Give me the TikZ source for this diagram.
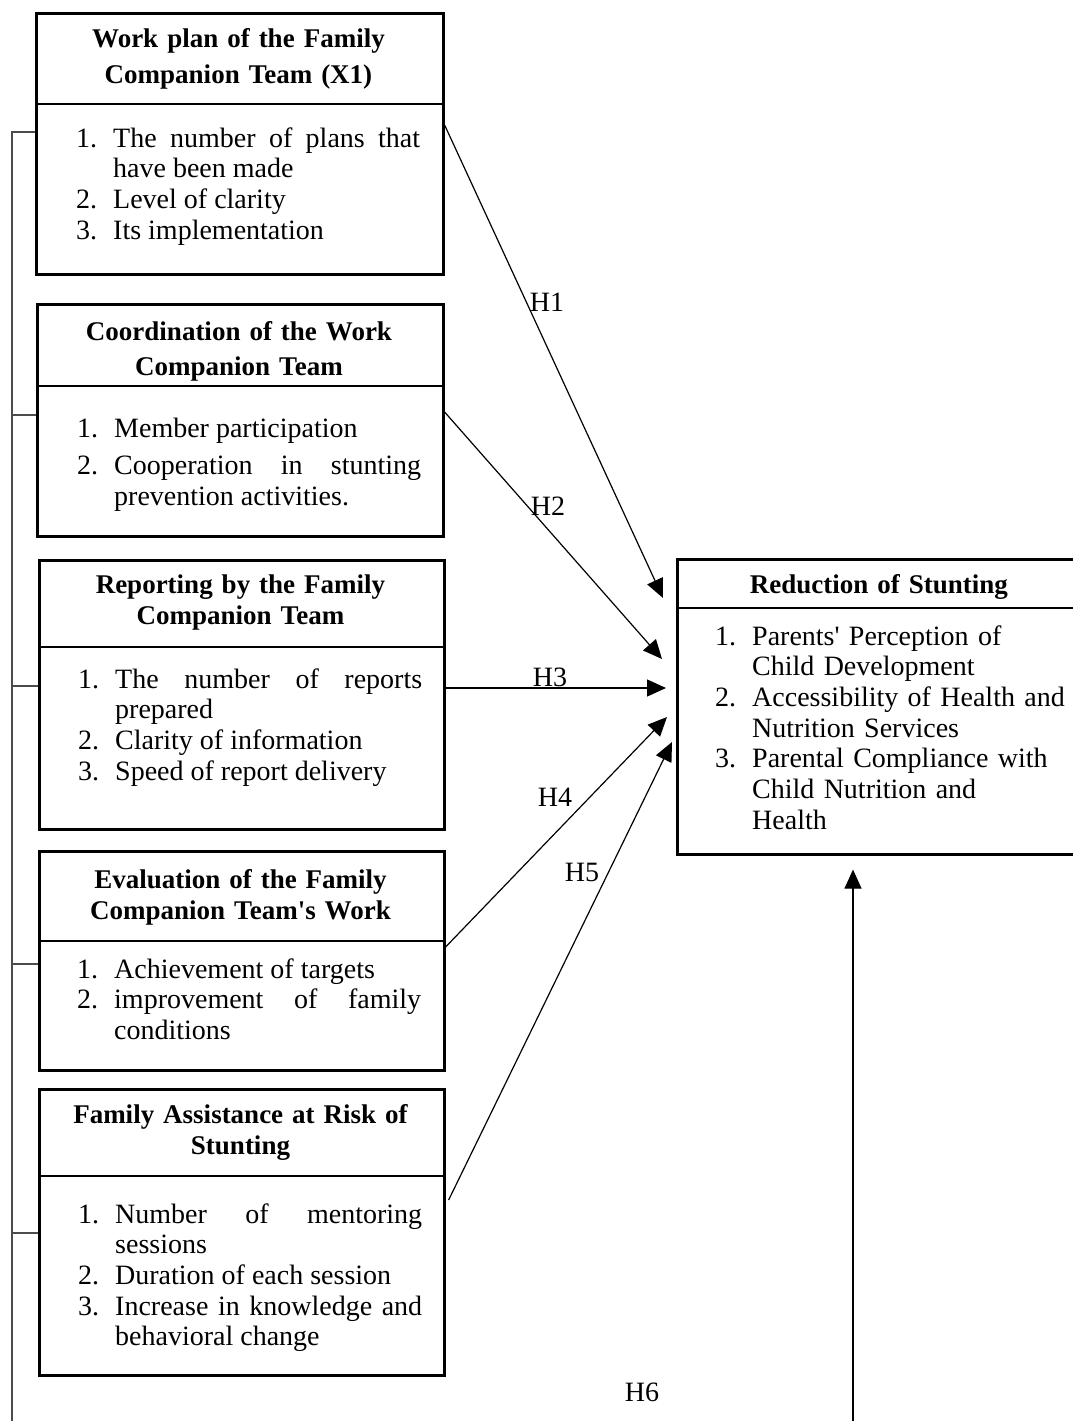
\documentclass[tikz,border=0pt]{standalone}
\usepackage{fontspec}
\setmainfont{Liberation Serif}
\usepackage{tikz}
\usetikzlibrary{arrows.meta}
\newcommand{\itm}[2]{\hangindent=37pt\hangafter=1\makebox[37pt][l]{#1}#2\par}

\begin{document}
\begin{tikzpicture}[
x=1pt, y=-1pt,
varbox/.style={draw, line width=2.6pt, anchor=north west, inner sep=0pt},
ttl/.style={anchor=base, align=center, text width=390pt, inner sep=0pt, font=\fontsize{27}{31.5}\selectfont\bfseries},
lst/.style={anchor=base west, align=justify, text width=344pt, inner sep=0pt, font=\fontsize{28}{30.7}\selectfont},
divider/.style={line width=1.2pt},
link/.style={line width=1.4pt, black!70},
arrow/.style={-{Triangle[length=19pt,width=17pt]}, line width=1.2pt},
hlbl/.style={inner sep=0pt, font=\fontsize{28}{30}\selectfont}
]
\useasboundingbox (0,0) rectangle (1072,1421);

\node[varbox, minimum width=407, minimum height=261] (b1) at (35,12) {};
\node[varbox, minimum width=406, minimum height=232] (b2) at (36,303) {};
\node[varbox, minimum width=405, minimum height=269] (b3) at (38,559) {};
\node[varbox, minimum width=405, minimum height=219] (b4) at (38,850) {};
\node[varbox, minimum width=405, minimum height=286] (b5) at (38,1088) {};
\node[varbox, minimum width=406, minimum height=295] (r) at (676,558) {};

\draw[divider] (b1.west |- 0,104) -- (b1.east |- 0,104);
\draw[divider] (b2.west |- 0,386) -- (b2.east |- 0,386);
\draw[divider] (b3.west |- 0,647) -- (b3.east |- 0,647);
\draw[divider] (b4.west |- 0,941) -- (b4.east |- 0,941);
\draw[divider] (b5.west |- 0,1176) -- (b5.east |- 0,1176);
\draw[divider] (r.west |- 0,608) -- (r.east |- 0,608);

\node[ttl, font=\fontsize{27}{35.5}\selectfont\bfseries] (t1) at (238.5,48) {Work plan of the Family\\Companion Team (X1)};
\node[ttl, font=\fontsize{27}{35}\selectfont\bfseries] (t2) at (239,340) {Coordination of the Work\\Companion Team};
\node[ttl] (t3) at (240.5,593) {Reporting by the Family\\Companion Team};
\node[ttl] (t4) at (240.5,888) {Evaluation of the Family\\Companion Team\textquotesingle s Work};
\node[ttl] (t5) at (240.5,1123) {Family Assistance at Risk of\\Stunting};
\node[ttl] (rt) at (879,593) {Reduction of Stunting};

\node[lst] (l1) at (76,147) {\itm{1.}{The number of plans that\linebreak have been made}\itm{2.}{Level of clarity}\itm{3.}{Its implementation}};
\node[lst] (l2) at (77,437) {\itm{1.}{Member participation}\vspace{7pt}\itm{2.}{Cooperation in stunting\linebreak prevention activities.}};
\node[lst] (l3) at (78,688) {\itm{1.}{The number of reports\linebreak prepared}\itm{2.}{Clarity of information}\itm{3.}{Speed of report delivery}};
\node[lst] (l4) at (77,978) {\itm{1.}{Achievement of targets}\itm{2.}{improvement of family\linebreak conditions}};
\node[lst] (l5) at (78,1223) {\itm{1.}{Number of mentoring\linebreak sessions}\itm{2.}{Duration of each session}\itm{3.}{Increase in knowledge and\linebreak behavioral change}};
\node[lst, align=left, text width=350pt] (rl) at (715,645) {\itm{1.}{Parents\textquotesingle\ Perception of\newline Child Development}\itm{2.}{Accessibility of Health and\newline Nutrition Services}\itm{3.}{Parental Compliance with\newline Child Nutrition and\newline Health}};

\coordinate (brbot) at (12,1421);
\draw[link] (b1.west |- 0,132) -| (brbot);
\foreach \b/\y in {b2/415, b3/686, b4/964, b5/1233}
  \draw[link] (\b.west |- 0,\y) -- (brbot |- 0,\y);

\draw[arrow] (b1.east |- 0,125) -- ([xshift=-13pt]r.west |- 0,598);
\draw[arrow] (b2.east |- 0,412) -- ([xshift=-14pt]r.west |- 0,659);
\draw[arrow] (b3.east |- 0,688) -- ([xshift=-10pt]r.west |- 0,688);
\draw[arrow] (b4.east |- 0,947) -- ([xshift=-9pt]r.west |- 0,717);
\draw[arrow] ([xshift=3pt]b5.east |- 0,1200) -- ([xshift=-4pt]r.west |- 0,742);

\coordinate (h6foot) at (853,1421);
\draw[arrow] (h6foot) -- ([yshift=-14pt]r.south -| h6foot);

\node[hlbl] (h1) at (547,302) {H1};
\node[hlbl] (h2) at (548,506) {H2};
\node[hlbl] (h3) at (550,677) {H3};
\node[hlbl] (h4) at (555,797) {H4};
\node[hlbl] (h5) at (582,872) {H5};
\node[hlbl] (h6) at (642,1392) {H6};
\end{tikzpicture}
\end{document}
